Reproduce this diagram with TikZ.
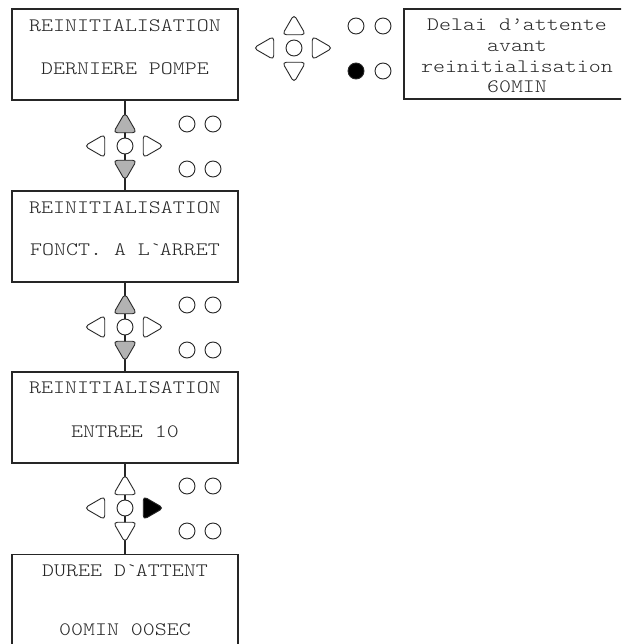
\documentclass[tikz,border=0pt]{standalone}
\usepackage{fontspec}
\newfontfamily\lcdfont{lmmonolt10-regular.otf}[FakeStretch=1.2]
\usetikzlibrary{shapes.geometric}

\begin{document}
\begin{tikzpicture}[
        x=1pt, y=-1pt,
        lcd_block/.style={draw=black!85, line width=1.2pt, rectangle, minimum width=226pt, minimum height=91pt, inner sep=0pt},
        lcd_text/.style={anchor=base, inner sep=0pt, font=\lcdfont\fontsize{19}{23}\selectfont, text=black!85},
        key/.style={regular polygon, regular polygon sides=3, minimum size=27pt, inner sep=0pt, rounded corners=4pt, draw=black!85, line width=0.9pt, fill=white},
        key_grey/.style={key, fill=black!30},
        key_black/.style={key, fill=black},
        key_down/.style={shape border rotate=180},
        key_left/.style={shape border rotate=90},
        key_right/.style={shape border rotate=270},
        led/.style={circle, minimum size=16pt, inner sep=0pt, draw=black!85, line width=0.9pt, fill=white},
        led_on/.style={led, fill=black},
        wire/.style={line width=1.2pt, draw=black!85}
    ]
        \path[use as bounding box, clip] (0,0) rectangle (621,644);

        % Display screens
        \node (reset_pump) at (125,54.5) [lcd_block] {};
        \node (reset_pump_t1) at (125,32) [lcd_text] {REINITIALISATION};
        \node (reset_pump_t2) at (125,75) [lcd_text] {DERNIERE POMPE};

        \node (reset_stop) at (125,236.5) [lcd_block] {};
        \node (reset_stop_t1) at (125,213) [lcd_text] {REINITIALISATION};
        \node (reset_stop_t2) at (125,255) [lcd_text] {FONCT. A L\textasciigrave ARRET};

        \node (reset_input) at (125,417.5) [lcd_block] {};
        \node (reset_input_t1) at (125,393) [lcd_text] {REINITIALISATION};
        \node (reset_input_t2) at (125,437) [lcd_text] {ENTREE 10};

        \node (wait_time) at (125,600) [lcd_block] {};
        \node (wait_time_t1) at (125,576) [lcd_text] {DUREE D\textasciigrave ATTENT};
        \node (wait_time_t2) at (125,635) [lcd_text] {00MIN 00SEC};

        % Help text
        \node (help) at (517,54) [lcd_block, minimum height=90pt] {};
        \node (help_t1) at (517,31) [lcd_text] {Delai d’attente};
        \node (help_t2) at (517,52) [lcd_text] {avant};
        \node (help_t3) at (517,72.5) [lcd_text] {reinitialisation};
        \node (help_t4) at (517,93) [lcd_text] {60MIN};

        % Connections
        \draw [wire] (reset_pump) -- (reset_stop);
        \draw [wire] (reset_stop) -- (reset_input);
        \draw [wire] (reset_input) -- (wait_time);

        % Keypad 1
        \node (k1_up) at (125,126) [key_grey] {};
        \node (k1_down) at (125,167) [key_grey, key_down] {};
        \node (k1_left) at (98,146) [key, key_left] {};
        \node (k1_right) at (150,146) [key, key_right] {};
        \node (k1_ok) at (125,146) [led] {};
        \node (k1_led1) at (187,124) [led] {};
        \node (k1_led2) at (213,124) [led] {};
        \node (k1_led3) at (187,169) [led] {};
        \node (k1_led4) at (213,169) [led] {};

        % Keypad 2
        \node (k2_up) at (125,307) [key_grey] {};
        \node (k2_down) at (125,348) [key_grey, key_down] {};
        \node (k2_left) at (98,327) [key, key_left] {};
        \node (k2_right) at (150,327) [key, key_right] {};
        \node (k2_ok) at (125,327) [led] {};
        \node (k2_led1) at (187,305) [led] {};
        \node (k2_led2) at (213,305) [led] {};
        \node (k2_led3) at (187,350) [led] {};
        \node (k2_led4) at (213,350) [led] {};

        % Keypad 3
        \node (k3_up) at (125,488) [key] {};
        \node (k3_down) at (125,529) [key, key_down] {};
        \node (k3_left) at (98,508) [key, key_left] {};
        \node (k3_right) at (150,508) [key_black, key_right] {};
        \node (k3_ok) at (125,508) [led] {};
        \node (k3_led1) at (187,486) [led] {};
        \node (k3_led2) at (213,486) [led] {};
        \node (k3_led3) at (187,531) [led] {};
        \node (k3_led4) at (213,531) [led] {};

        % Keypad 4
        \node (k4_up) at (294,28) [key] {};
        \node (k4_down) at (294,69) [key, key_down] {};
        \node (k4_left) at (267,48) [key, key_left] {};
        \node (k4_right) at (319,48) [key, key_right] {};
        \node (k4_ok) at (294,48) [led] {};
        \node (k4_led1) at (356,26) [led] {};
        \node (k4_led2) at (383,26) [led] {};
        \node (k4_led3) at (356,71) [led_on] {};
        \node (k4_led4) at (383,71) [led] {};

    \end{tikzpicture}
\end{document}
